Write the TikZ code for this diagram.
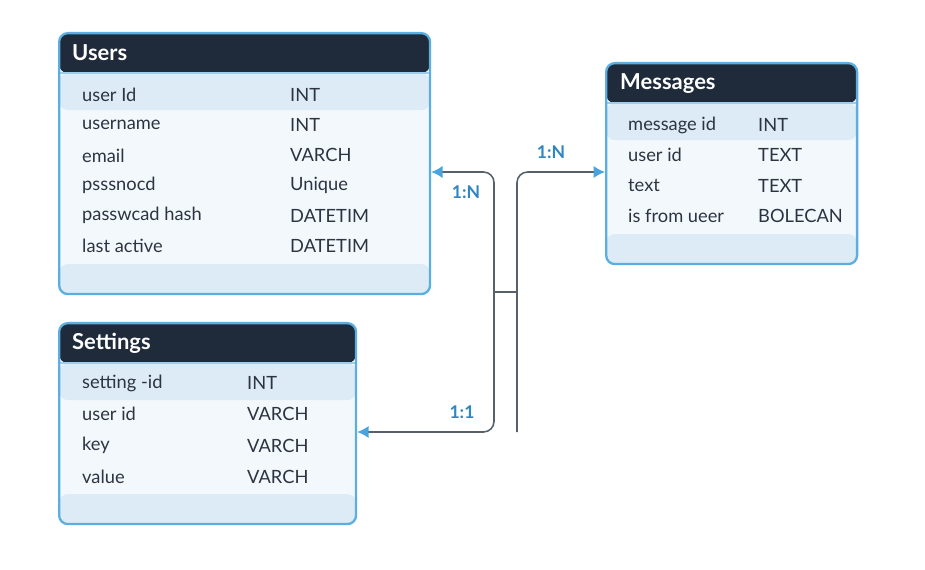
\documentclass[tikz,border=0pt]{standalone}
\usepackage{fontspec}
\setmainfont{Lato}
\usepackage{tikz}
\usetikzlibrary{arrows.meta,calc}
\definecolor{hdrcol}{HTML}{1F2A3A}
\definecolor{bordercol}{HTML}{5AAEE0}
\definecolor{bandcol}{HTML}{DCEBF6}
\definecolor{bodycol}{HTML}{F3F8FC}
\definecolor{linkcol}{HTML}{56616B}
\definecolor{tipcol}{HTML}{4AA3DC}
\definecolor{cardcol}{HTML}{2F86C0}
\definecolor{txtcol}{HTML}{2B3440}
\tikzset{>=latex}

\begin{document}
\begin{tikzpicture}[x=0.02cm,y=-0.02cm,
  tablebox/.style={draw=bordercol,line width=1.3pt,rounded corners=5pt,fill=bodycol,
    inner sep=0pt,anchor=north west,
    path picture={
      \fill[hdrcol] (path picture bounding box.north west) rectangle ([yshift=-0.8cm]path picture bounding box.north east);
      \fill[bandcol] ([yshift=-0.8cm]path picture bounding box.north west) rectangle ([yshift=-1.54cm]path picture bounding box.north east);
      \draw[bordercol!60,line width=0.8pt] ([yshift=-0.8cm]path picture bounding box.north west) -- ([yshift=-0.8cm]path picture bounding box.north east);
      \fill[bandcol] (path picture bounding box.south west) rectangle ([yshift=0.6cm]path picture bounding box.south east);
    }},
  title/.style={anchor=west,text=white,font=\fontsize{12.5}{14}\selectfont\bfseries},
  field/.style={anchor=west,text=txtcol,font=\fontsize{10.4}{12}\selectfont},
  card/.style={text=cardcol,font=\fontsize{10}{12}\selectfont\bfseries},
  link/.style={draw=linkcol,line width=0.9pt,rounded corners=6pt}]
\useasboundingbox[fill=white] (0,0) rectangle (925,570);

% tables
\node[tablebox,minimum width=7.42cm,minimum height=5.22cm] (users) at (58,32) {};
\node[title] (users-t) at (66,53) {Users};
\foreach \n/\t [count=\i] in {user Id/INT,username/INT,email/VARCH,psssnocd/Unique,passwcad hash/DATETIM,last active/DATETIM}
{
  \node[field] (users-n\i) at (76,{95+30.2*(\i-1)}) {\n};
  \node[field] (users-d\i) at (284,{95+30.2*(\i-1)}) {\t};
}

\node[tablebox,minimum width=5.02cm,minimum height=4.02cm] (messages) at (605,62) {};
\node[title] (messages-t) at (614,84) {Messages};
\foreach \n/\t [count=\i] in {message id/INT,user id/TEXT,text/TEXT,is from ueer/BOLECAN}
{
  \node[field] (messages-n\i) at (622,{125+30.3*(\i-1)}) {\n};
  \node[field] (messages-d\i) at (752,{125+30.3*(\i-1)}) {\t};
}

\node[tablebox,minimum width=5.94cm,minimum height=4.02cm] (settings) at (58,322) {};
\node[title] (settings-t) at (66,343) {Settings};
\foreach \n/\t [count=\i] in {setting -id/INT,user id/VARCH,key/VARCH,value/VARCH}
{
  \node[field] (settings-n\i) at (76,{383+31.3*(\i-1)}) {\n};
  \node[field] (settings-d\i) at (241,{383+31.3*(\i-1)}) {\t};
}

% connectors
\coordinate (jl) at (494,172);
\coordinate (jr) at (517,172);
\coordinate (sl) at (494,432);
\coordinate (sr) at (517,432);
\draw[link,{Latex[length=6.5pt,width=7pt,color=tipcol]}-{Latex[length=6.5pt,width=7pt,color=tipcol]}]
  (users.east |- jl) -- (jl) -- (sl) -- (settings.east |- sl);
\draw[link,-{Latex[length=6.5pt,width=7pt,color=tipcol]}]
  (sr) -- (jr) -- (messages.west |- jr);
\draw[link] (494,292) -- (517,292);

\node[card] (c1) at (551,152) {1:N};
\node[card] (c2) at (466,192) {1:N};
\node[card] (c3) at (462,412) {1:1};
\end{tikzpicture}
\end{document}
